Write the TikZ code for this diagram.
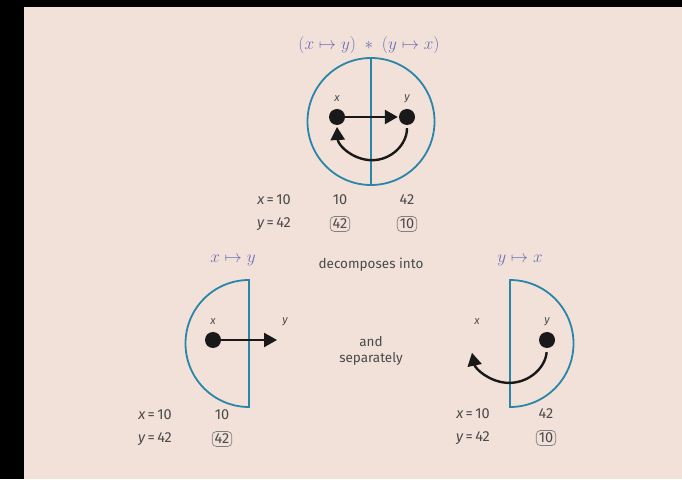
\documentclass[tikz,border=0pt]{standalone}
\usepackage{amsmath, amssymb}
\usepackage{fontspec}
\setmainfont{Fira Sans}
\usepackage{tikz}
\usetikzlibrary{arrows.meta}

\definecolor{fondo}{HTML}{F2E1D9}
\definecolor{azul}{HTML}{2A86A8}
\definecolor{lila}{HTML}{6A70B6}
\definecolor{gris}{HTML}{4A4A4A}

\tikzset{
  dot/.style={circle, fill=black!90, inner sep=0pt, minimum size=16pt},
  half/.style={draw=azul, line width=1.8pt},
  arr/.style={line width=2.4pt, black!90, -{Triangle[length=13pt,width=14pt]}},
  var/.style={font=\fontsize{11}{12}\selectfont\itshape, text=gris},
  val/.style={font=\fontsize{14.5}{15}\selectfont, text=gris},
  valbox/.style={val, draw=gris!70, line width=0.7pt, rounded corners=4pt, inner sep=2.5pt},
  maplabel/.style={font=\fontsize{19}{20}\selectfont, text=lila},
  txt/.style={font=\fontsize{13.5}{16}\selectfont, text=gris, align=center}
}

\begin{document}
\begin{tikzpicture}[x=1pt, y=1pt]
  % Fondo y bordes
  \useasboundingbox (0,0) rectangle (682,479);
  \fill[fondo] (0,0) rectangle (682,479);
  \fill[black] (0,0) rectangle (24,479);
  \fill[black] (0,472) rectangle (682,479);

  % Círculo completo
  \node[maplabel] (tcomb) at (369,434) {$(x \mapsto y) \;\ast\; (y \mapsto x)$};
  \draw[half] (371,357.5) circle (63.5pt);
  \draw[half] (371,421) -- (371,294);
  \node[dot] (bx) at (337,362) {};
  \node[dot] (by) at (407,362) {};
  \node[var] (lbx) at (337,380) {x};
  \node[var] (lby) at (407,380) {y};
  \draw[arr, shorten >=1pt] (bx) -- (by);
  \draw[arr, shorten <=3pt] (by.south) arc[start angle=0, end angle=-177, radius=35pt];

  % Valores arriba
  \node[val] (tx) at (274,279) {{\itshape x}\,=\,10};
  \node[val] (ty) at (274,255) {{\itshape y}\,=\,42};
  \node[val] (tx1) at (340,279) {10};
  \node[valbox] (ty1) at (340,255) {42};
  \node[val] (tx2) at (407,279) {42};
  \node[valbox] (ty2) at (407,255) {10};

  \node[txt] (decomp) at (371,214) {decomposes into};
  \node[txt] (sep) at (371,128) {and\\separately};

  % Mitad izquierda
  \node[maplabel] (tleft) at (233,219) {$x \mapsto y$};
  \draw[half] (249,199) arc[start angle=90, end angle=270, radius=63.5pt] -- cycle;
  \node[dot] (lx) at (213,139) {};
  \node[var] (llx) at (213,157) {x};
  \node[var] (lly) at (285,157) {y};
  \coordinate (lend) at (277,139);
  \draw[arr] (lx) -- (lend);
  \node[val] (ltx) at (155,64) {{\itshape x}\,=\,10};
  \node[val] (lty) at (155,40) {{\itshape y}\,=\,42};
  \node[val] (ltx1) at (222,64) {10};
  \node[valbox] (lty1) at (222,40) {42};

  % Mitad derecha
  \node[maplabel] (tright) at (520,219) {$y \mapsto x$};
  \draw[half] (510,199) arc[start angle=90, end angle=-90, radius=63.5pt] -- cycle;
  \node[dot] (ry) at (547,139) {};
  \node[var] (rlx) at (477,157) {x};
  \node[var] (rly) at (547,157) {y};
  \draw[arr, shorten <=4pt] (ry.south) arc[start angle=-5, end angle=-168, radius=38pt];
  \node[val] (rtx) at (473,65) {{\itshape x}\,=\,10};
  \node[val] (rty) at (473,41) {{\itshape y}\,=\,42};
  \node[val] (rtx1) at (546,65) {42};
  \node[valbox] (rty1) at (546,41) {10};
\end{tikzpicture}
\end{document}
